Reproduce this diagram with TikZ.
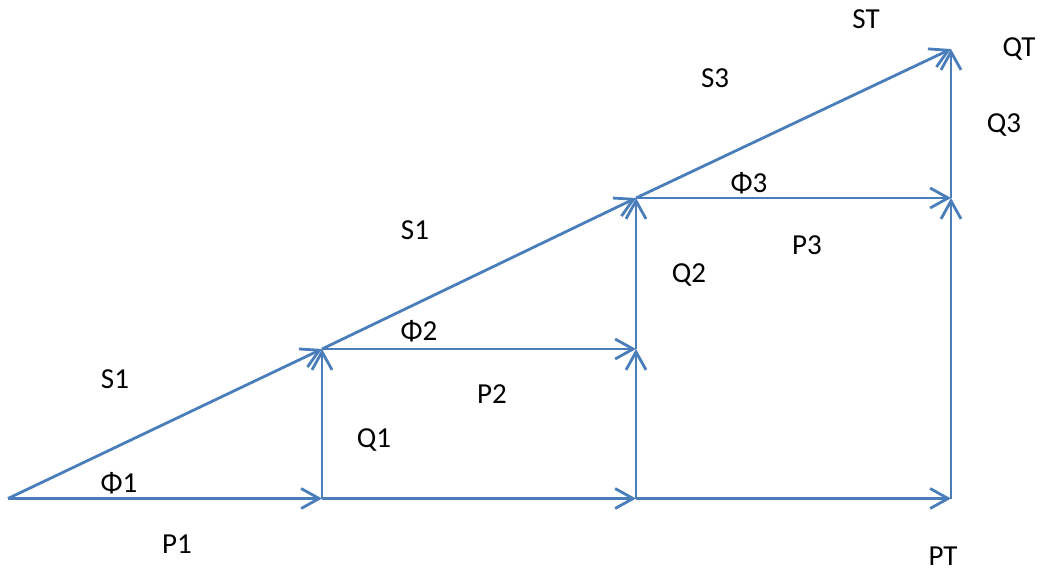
\documentclass[tikz,border=0pt]{standalone}
\usepackage{fontspec}
\setmainfont{Carlito}
\usetikzlibrary{arrows.meta}
\definecolor{vblue}{RGB}{74,126,187}
\tikzset{
  vec/.style={draw=vblue, line width=2.8pt, -{Straight Barb[length=18pt,width=20pt,line width=2.8pt]}},
  lbl/.style={inner sep=0pt, font=\fontsize{29}{34}\selectfont, text=black}
}
\begin{document}
\begin{tikzpicture}[x=1pt,y=-1pt]
\useasboundingbox (0,0) rectangle (1040,571);
\coordinate (O) at (8,498.5);
\coordinate (A) at (322,498.5);
\coordinate (B) at (322,349);
\coordinate (C) at (636,349);
\coordinate (D) at (636,498.5);
\coordinate (E) at (636,198);
\coordinate (F) at (951,198);
\coordinate (G) at (951,498.5);
\coordinate (H) at (951,49);

\draw[vec] (O) -- (A);
\draw[vec] (A) -- (D);
\draw[vec] (D) -- (G);
\draw[vec] (A) -- (B);
\draw[vec] (O) -- (B);
\draw[vec] (B) -- (C);
\draw[vec] (D) -- (C);
\draw[vec] (C) -- (E);
\draw[vec] (B) -- (E);
\draw[vec] (E) -- (F);
\draw[vec] (G) -- (F);
\draw[vec] (F) -- (H);
\draw[vec] (E) -- (H);

\node[lbl] (lST) at (866,19) {ST};
\node[lbl] (lQT) at (1019,49) {QT};
\node[lbl] (lS3) at (715,78) {S3};
\node[lbl] (lQ3) at (1004,125) {Q3};
\node[lbl,anchor=base] (lPhi3) at (749,192) {Φ3};
\node[lbl] (lS1b) at (415,230) {S1};
\node[lbl] (lP3) at (807,245) {P3};
\node[lbl] (lQ2) at (689,275) {Q2};
\node[lbl,anchor=base] (lPhi2) at (419,340) {Φ2};
\node[lbl] (lS1a) at (115,379) {S1};
\node[lbl] (lP2) at (492,394) {P2};
\node[lbl] (lQ1) at (374,440) {Q1};
\node[lbl,anchor=base] (lPhi1) at (119,492) {Φ1};
\node[lbl] (lP1) at (177,544) {P1};
\node[lbl] (lPT) at (943,556) {PT};
\end{tikzpicture}
\end{document}
